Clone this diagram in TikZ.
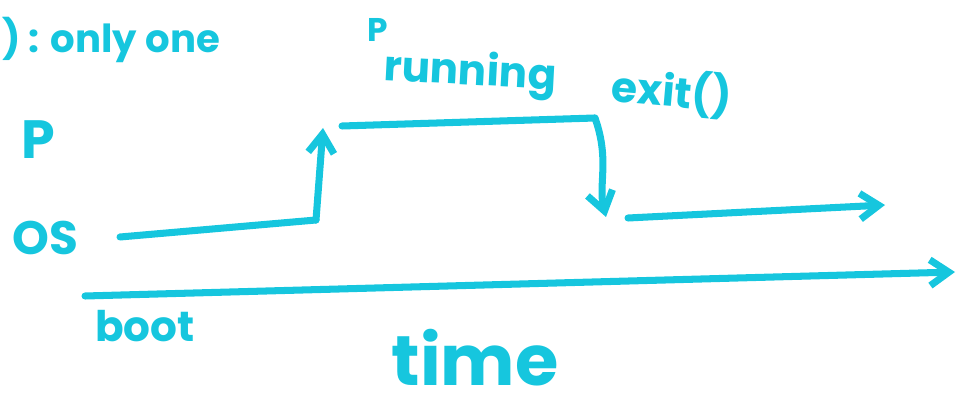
\documentclass[tikz,border=0pt]{standalone}
\usepackage{fontspec}
\setmainfont{Poppins}
\usepackage{xcolor}
\usetikzlibrary{arrows.meta, positioning}
\definecolor{pen}{RGB}{22,198,222}

\begin{document}
\begin{tikzpicture}[
        x=0.03cm, y=-0.03cm,
        ink/.style={
            text=pen,
            inner sep=0pt,
            anchor=center,
            font=\bfseries
        },
        stroke/.style={
            draw=pen,
            line width=6pt,
            line cap=round,
            line join=round
        },
        arrow/.style={
            stroke,
            -{Straight Barb[length=16pt, width=22pt, line width=6pt]}
        }
    ]

    \useasboundingbox (0,0) rectangle (961,404);

    % labels
    \node (rule) [ink, anchor=west, font=\bfseries\fontsize{33}{38}\selectfont] at (2,40) {) : only one};
    \node (plabel) [ink, font=\bfseries\fontsize{46}{52}\selectfont] at (38,140) {P};
    \node (oslabel) [ink, font=\bfseries\fontsize{40}{46}\selectfont] at (45,238) {OS};
    \node (ptop) [ink, font=\bfseries\fontsize{28}{32}\selectfont] at (378,30) {P};
    \node (running) [ink, rotate=-3, font=\bfseries\fontsize{36}{40}\selectfont] at (470,74) {running};
    \node (exit) [ink, rotate=-5, font=\bfseries\fontsize{36}{40}\selectfont] at (672,92) {exit()};
    \node (boot) [ink, font=\bfseries\fontsize{36}{40}\selectfont] at (145,326) {boot};
    \node (time) [ink, font=\bfseries\fontsize{60}{66}\selectfont] at (475,358) {time};

    % timeline points
    \coordinate (osstart) at (120,237);
    \coordinate (switch) at (316,220);
    \coordinate (pup) at (323,128);
    \coordinate (pstart) at (342,126);
    \coordinate (pend) at (595,118);
    \coordinate (osback) at (606,217);
    \coordinate (osnext) at (628,218);
    \coordinate (osend) at (885,205);
    \coordinate (tstart) at (85,296);
    \coordinate (tend) at (955,272);

    \draw [stroke] (osstart) -- (switch);
    \draw [arrow] (switch) -- (pup);
    \draw [stroke] (pstart) -- (pend);
    \draw [arrow] (pend) .. controls (610,160) and (598,185) .. (osback);
    \draw [arrow] (osnext) -- (osend);
    \draw [arrow] (tstart) -- (tend);

    \end{tikzpicture}
\end{document}
